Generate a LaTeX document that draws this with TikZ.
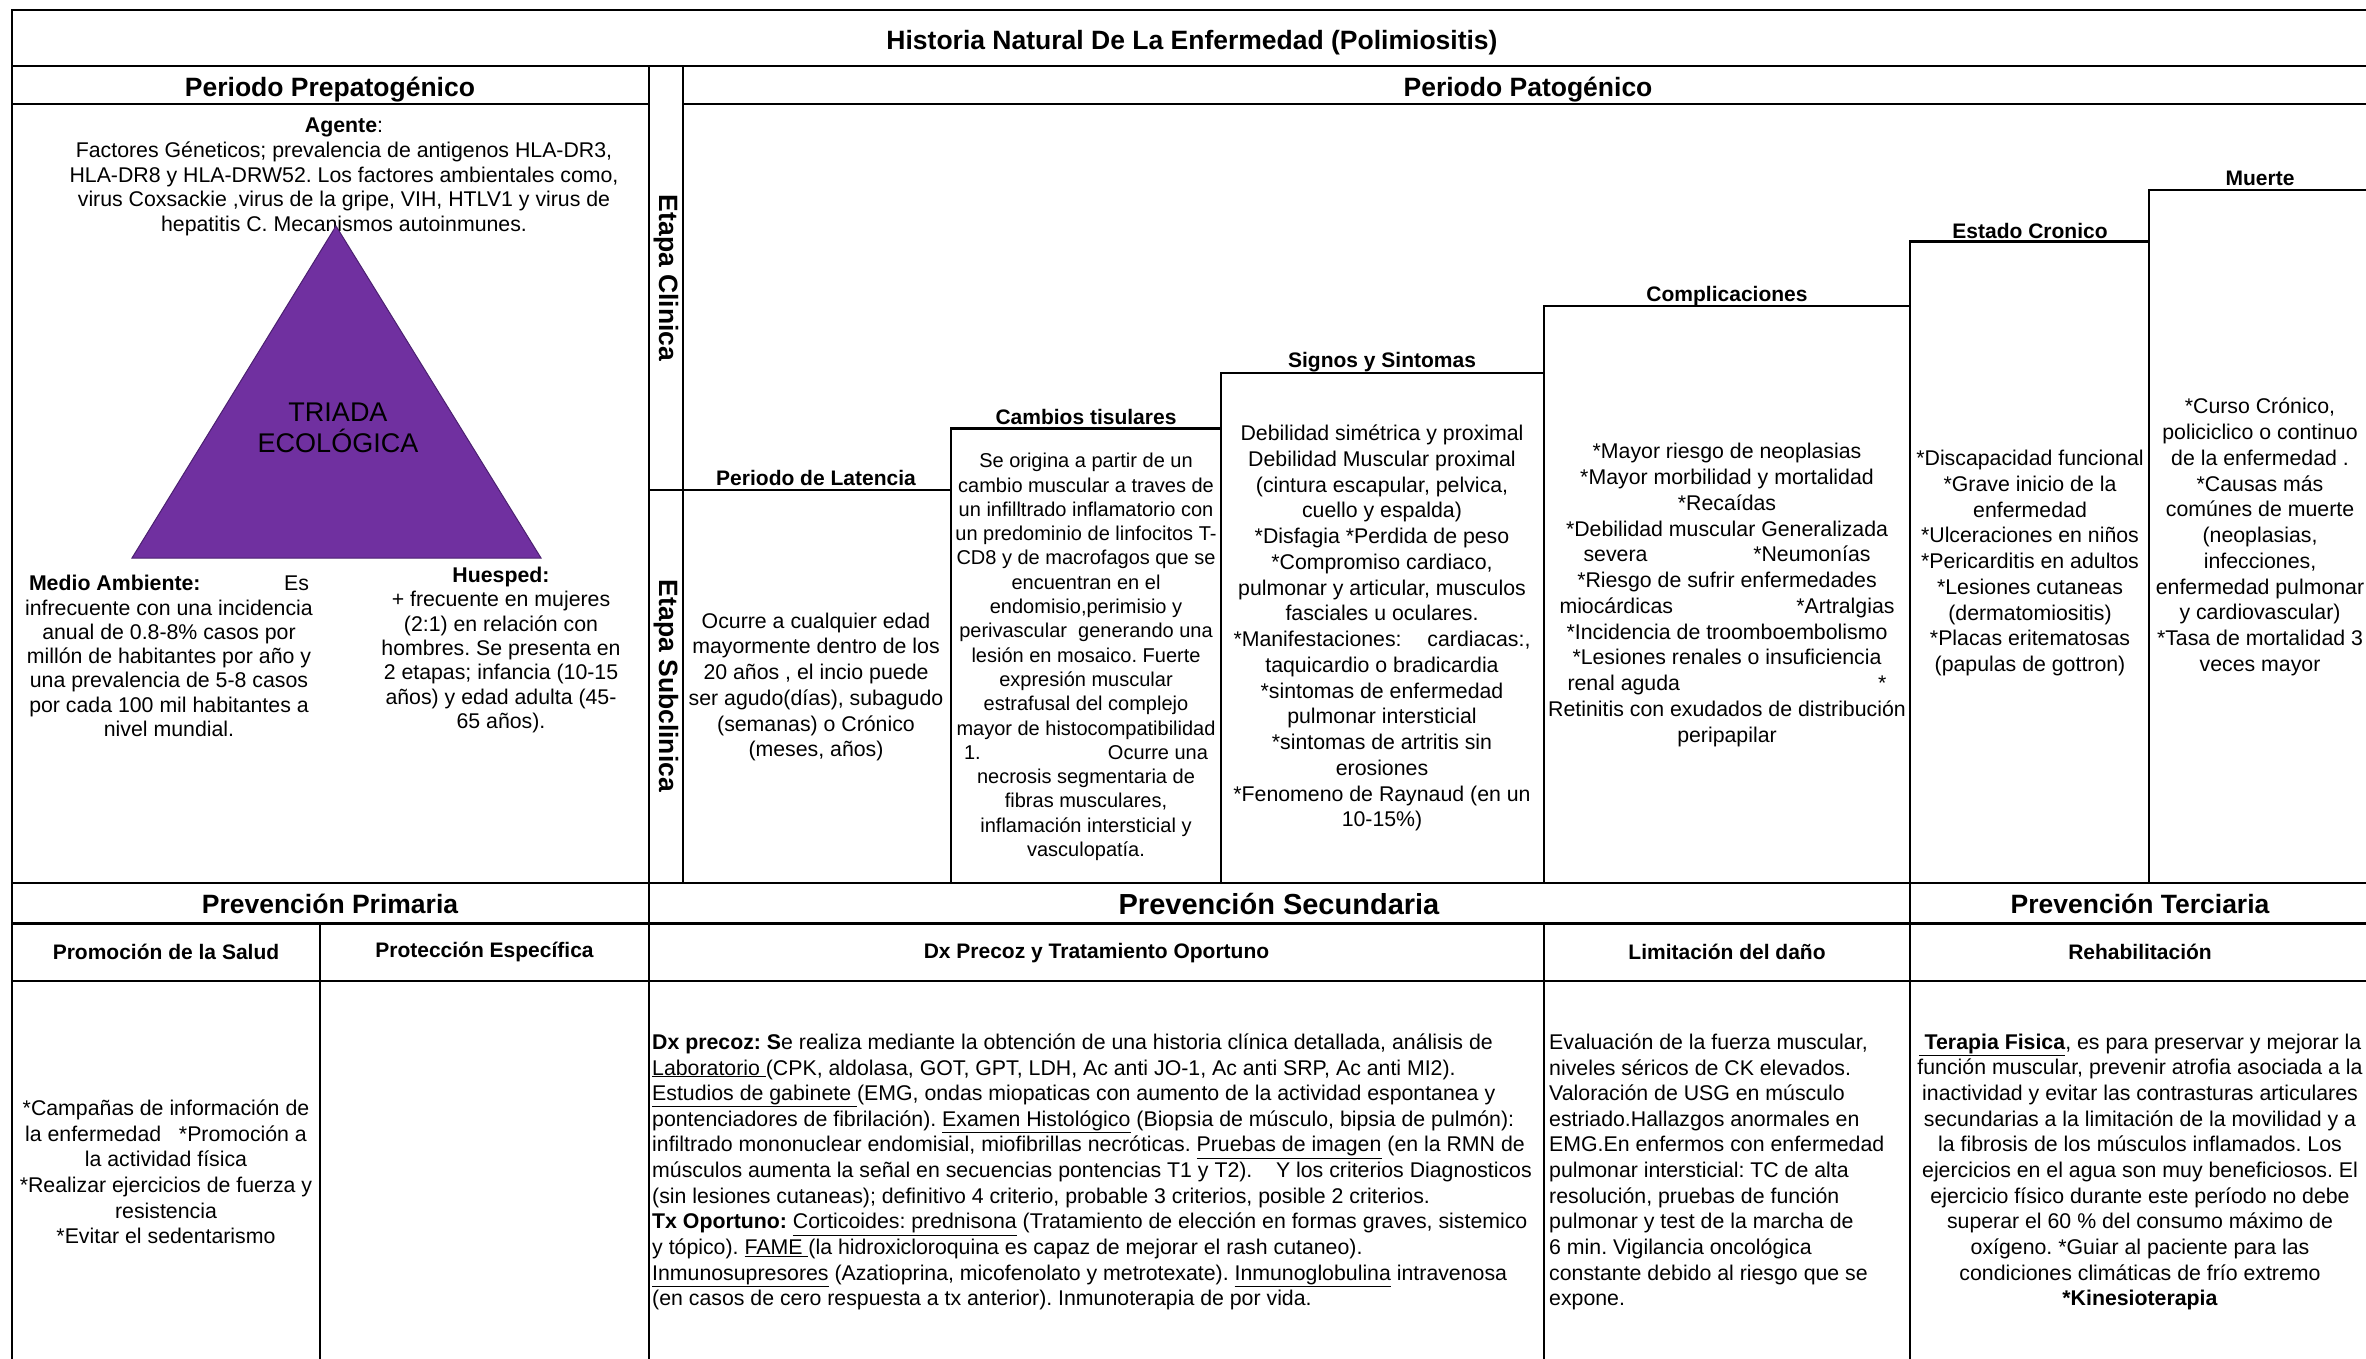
\documentclass[tikz,border=0pt]{standalone}
\usepackage{fontspec}
\setmainfont{Liberation Sans}
\definecolor{triad}{HTML}{7030A0}
\definecolor{triadline}{HTML}{4B2070}
\tikzset{
  ln/.style={line width=2.2pt, line cap=rect},
  txtA/.style={inner sep=0pt, font=\fontsize{21.3}{25.75}\selectfont, align=center},
  txtB/.style={inner sep=0pt, font=\fontsize{21.3}{24.3}\selectfont, align=center},
  txtL/.style={inner sep=0pt, font=\fontsize{21.3}{25.65}\selectfont, align=left},
  headA/.style={inner sep=0pt, font=\fontsize{26.5}{30}\selectfont\bfseries},
  headB/.style={inner sep=0pt, font=\fontsize{21}{25}\selectfont\bfseries}
}
\begin{document}
\frenchspacing
\begin{tikzpicture}[x=1pt,y=-1pt]
\useasboundingbox (0,0) rectangle (2366,1359);
\fill[white] (0,0) rectangle (2366,1359);
\begin{scope}
\clip (0,0) rectangle (2366,1359);
% frame and grid
\draw[ln] (12,1400) -- (12,10) -- (2380,10);
\draw[ln] (12,66) -- (2380,66);
\draw[ln] (12,104) -- (649,104);
\draw[ln] (683,104) -- (2380,104);
\draw[ln] (649,66) -- (649,1400);
\draw[ln] (683,66) -- (683,883);
\draw[ln] (649,490) -- (951,490);
\draw[ln] (951,883) -- (951,428.5) -- (1221,428.5);
\draw[ln] (1221,883) -- (1221,372.7) -- (1544,372.7);
\draw[ln] (1544,883) -- (1544,306) -- (1910,306);
\draw[ln] (1544,923.5) -- (1544,1400);
\draw[ln] (1910,1400) -- (1910,241.4) -- (2149,241.4);
\draw[ln] (2149,883) -- (2149,190) -- (2380,190);
\draw[ln] (12,883) -- (2380,883);
\draw[ln] (12,923.5) -- (2380,923.5);
\draw[ln] (12,981) -- (2380,981);
\draw[ln] (320,923.5) -- (320,1400);

% headers
\node[headA] (title) at (1192,42.5) {Historia Natural De La Enfermedad (Polimiositis)};
\node[headA] (prepat) at (330,89.5) {Periodo Prepatogénico};
\node[headA] (pat) at (1528,89.5) {Periodo Patogénico};
\node[headA, rotate=-90] (eclin) at (666,278) {Etapa Clinica};
\node[headA, rotate=-90] (esub) at (666,686) {Etapa Subclinica};

% prepatogenico
\node[txtB, font=\fontsize{21.3}{24.6}\selectfont] (agente) at (344,177) {\textbf{Agente}:\\
Factores Géneticos; prevalencia de antigenos HLA-DR3,\\
HLA-DR8 y HLA-DRW52. Los factores ambientales como,\\
virus Coxsackie ,virus de la gripe, VIH, HTLV1 y virus de\\
hepatitis C. Mecanismos autoinmunes.};
\filldraw[fill=triad, draw=triadline, line width=1pt] (336,226) -- (541,558) -- (132,558) -- cycle;
\node[inner sep=0pt, font=\fontsize{27}{31}\selectfont, align=center] (triada) at (338,428) {TRIADA\\ECOLÓGICA};
\node[txtB] (medio) at (169,656) {\makebox[280pt]{\textbf{Medio Ambiente:}\hfill Es}\\
infrecuente con una incidencia\\
anual de 0.8-8\% casos por\\
millón de habitantes por año y\\
una prevalencia de 5-8 casos\\
por cada 100 mil habitantes a\\
nivel mundial.};
\node[txtB] (huesped) at (501,650) {\textbf{Huesped:}\\
+ frecuente en mujeres\\
(2:1) en relación con\\
hombres. Se presenta en\\
2 etapas; infancia (10-15\\
años) y edad adulta (45-\\
65 años).};

% staircase labels
\node[headB] (hlat) at (816,478) {Periodo de Latencia};
\node[headB] (hcam) at (1086,416.5) {Cambios tisulares};
\node[headB] (hsig) at (1382,362) {Signos y Sintomas};
\node[headB] (hcom) at (1727,296) {Complicaciones};
\node[headB] (hest) at (2030,230.5) {Estado Cronico};
\node[headB] (hmue) at (2260,178) {Muerte};

\node[txtA] (lat) at (816,687) {Ocurre a cualquier edad\\
mayormente dentro de los\\
20 años , el incio puede\\
ser agudo(días), subagudo\\
(semanas) o Crónico\\
(meses, años)};
\node[txtB, font=\fontsize{20}{24.3}\selectfont] (cam) at (1086,657) {Se origina a partir de un\\
cambio muscular a traves de\\
un infilltrado inflamatorio con\\
un predominio de linfocitos T-\\
CD8 y de macrofagos que se\\
encuentran en el\\
endomisio,perimisio y\\
perivascular\ \ generando una\\
lesión en mosaico. Fuerte\\
expresión muscular\\
estrafusal del complejo\\
mayor de histocompatibilidad\\
\makebox[244pt]{1.\hfill Ocurre una}\\
necrosis segmentaria de\\
fibras musculares,\\
inflamación intersticial y\\
vasculopatía.};
\node[txtA] (sig) at (1382,628) {Debilidad simétrica y proximal\\
Debilidad Muscular proximal\\
(cintura escapular, pelvica,\\
cuello y espalda)\\
*Disfagia *Perdida de peso\\
*Compromiso cardiaco,\\
pulmonar y articular, musculos\\
fasciales u oculares.\\
\makebox[297pt]{*Manifestaciones:\hfill cardiacas:,}\\
taquicardio o bradicardia\\
*sintomas de enfermedad\\
pulmonar intersticial\\
*sintomas de artritis sin\\
erosiones\\
*Fenomeno de Raynaud (en un\\
10-15\%)};
\node[txtA] (com) at (1727,595) {*Mayor riesgo de neoplasias\\
*Mayor morbilidad y mortalidad\\
*Recaídas\\
*Debilidad muscular Generalizada\\
\makebox[287pt]{severa\hfill *Neumonías}\\
*Riesgo de sufrir enfermedades\\
\makebox[335pt]{miocárdicas\hfill *Artralgias}\\
*Incidencia de troomboembolismo\\
*Lesiones renales o insuficiencia\\
\makebox[319pt]{renal aguda\hfill *}\\
Retinitis con exudados de distribución\\
peripapilar};
\node[txtA] (est) at (2030,563) {*Discapacidad funcional\\
*Grave inicio de la\\
enfermedad\\
*Ulceraciones en niños\\
*Pericarditis en adultos\\
*Lesiones cutaneas\\
(dermatomiositis)\\
*Placas eritematosas\\
(papulas de gottron)};
\node[txtA] (mue) at (2260,537) {*Curso Crónico,\\
policiclico o continuo\\
de la enfermedad .\\
*Causas más\\
comúnes de muerte\\
(neoplasias,\\
infecciones,\\
enfermedad pulmonar\\
y cardiovascular)\\
*Tasa de mortalidad 3\\
veces mayor};

% prevention rows
\node[headA] (pprim) at (330,904) {Prevención Primaria};
\node[headA, font=\fontsize{29}{32}\selectfont\bfseries] (psec) at (1279,904) {Prevención Secundaria};
\node[headA] (pter) at (2140,904) {Prevención Terciaria};
\node[headB] (promo) at (166,952) {Promoción de la Salud};
\node[headB] (prote) at (484.5,952) {Protección Específica};
\node[headB] (dxh) at (1096.5,953) {Dx Precoz y Tratamiento Oportuno};
\node[headB] (limh) at (1727,952) {Limitación del daño};
\node[headB] (rehh) at (2140,952) {Rehabilitación};

\node[txtA, font=\fontsize{21.3}{25.65}\selectfont] (promotxt) at (166,1172) {*Campañas de información de\\
la enfermedad\ \ \ *Promoción a\\
la actividad física\\
*Realizar ejercicios de fuerza y\\
resistencia\\
*Evitar el sedentarismo};
\node[txtL, anchor=west] (dxtxt) at (652,1172) {\textbf{Dx precoz: S}e realiza mediante la obtención de una historia clínica detallada, análisis de\\
\underline{Laboratorio\ }(CPK, aldolasa, GOT, GPT, LDH, Ac anti JO-1, Ac anti SRP, Ac anti MI2).\\
\underline{Estudios de gabinete\ }(EMG, ondas miopaticas con aumento de la actividad espontanea y\\
pontenciadores de fibrilación). \underline{Examen Histológico} (Biopsia de músculo, bipsia de pulmón):\\
infiltrado mononuclear endomisial, miofibrillas necróticas. \underline{Pruebas de imagen} (en la RMN de\\
músculos aumenta la señal en secuencias pontencias T1 y T2).\ \ \ \ Y los criterios Diagnosticos\\
(sin lesiones cutaneas); definitivo 4 criterio, probable 3 criterios, posible 2 criterios.\\
\textbf{Tx Oportuno:} \underline{Corticoides: prednisona} (Tratamiento de elección en formas graves, sistemico\\
y tópico). \underline{FAME\ }(la hidroxicloroquina es capaz de mejorar el rash cutaneo).\\
\underline{Inmunosupresores} (Azatioprina, micofenolato y metrotexate). \underline{Inmunoglobulina} intravenosa\\
(en casos de cero respuesta a tx anterior). Inmunoterapia de por vida.};
\node[txtL, anchor=west] (limtxt) at (1549,1172) {Evaluación de la fuerza muscular,\\
niveles séricos de CK elevados.\\
Valoración de USG en músculo\\
estriado.Hallazgos anormales en\\
EMG.En enfermos con enfermedad\\
pulmonar intersticial: TC de alta\\
resolución, pruebas de función\\
pulmonar y test de la marcha de\\
6 min. Vigilancia oncológica\\
constante debido al riesgo que se\\
expone.};
\node[txtA, font=\fontsize{21.3}{25.65}\selectfont] (rehtxt) at (2140,1172) {\underline{\textbf{\ Terapia Fisica}}, es para preservar y mejorar la\\
función muscular, prevenir atrofia asociada a la\\
inactividad y evitar las contrasturas articulares\\
secundarias a la limitación de la movilidad y a\\
la fibrosis de los músculos inflamados. Los\\
ejercicios en el agua son muy beneficiosos. El\\
ejercicio físico durante este período no debe\\
superar el 60 \% del consumo máximo de\\
oxígeno. *Guiar al paciente para las\\
condiciones climáticas de frío extremo\\
\textbf{*Kinesioterapia}};
\end{scope}
\end{tikzpicture}
\end{document}
